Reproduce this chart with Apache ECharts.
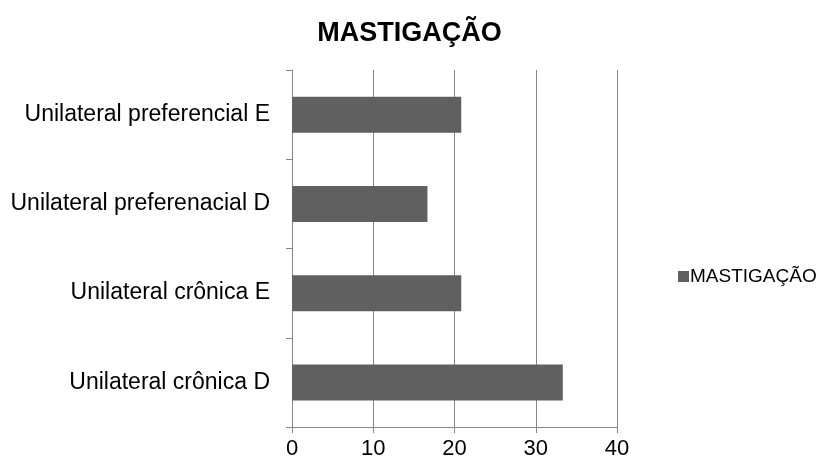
<!DOCTYPE html>
<html>
<head>
<meta charset="utf-8">
<script src="https://cdn.jsdelivr.net/npm/echarts@6/dist/echarts.min.js"></script>
<style>
  html, body { margin: 0; padding: 0; background: #fff; }
  #chart { width: 819px; height: 463px; }
</style>
</head>
<body>
<div id="chart"></div>
<script>
// Categories listed bottom to top (category axis is drawn from the bottom up)
const categories = [
  'Unilateral crônica D',
  'Unilateral crônica E',
  'Unilateral preferenacial D',
  'Unilateral preferencial E'
];
const seriesName = 'MASTIGAÇÃO';
const values = [33.33, 20.83, 16.67, 20.83];
const xTicks = [0, 10, 20, 30, 40];

const FONT = '"Liberation Sans", Arial, sans-serif';
const GRID_GRAY = '#868686';

const chart = echarts.init(document.getElementById('chart'), null, { renderer: 'canvas' });
chart.setOption({
  animation: false,
  backgroundColor: '#ffffff',
  title: {
    text: seriesName,
    left: 'center',
    top: 15,
    textStyle: { fontFamily: FONT, fontSize: 27, fontWeight: 'bold', color: '#000' }
  },
  legend: {
    data: [seriesName],
    left: 673,
    top: 262,
    icon: 'rect',
    itemWidth: 11,
    itemHeight: 11,
    textStyle: { fontFamily: FONT, fontSize: 19, color: '#000', padding: [0, 0, 0, -4] }
  },
  grid: { left: 292, right: 202, top: 70, bottom: 36, containLabel: false },
  xAxis: {
    type: 'value',
    min: xTicks[0],
    max: xTicks[xTicks.length - 1],
    interval: xTicks[1] - xTicks[0],
    axisLine: { show: true, lineStyle: { color: GRID_GRAY, width: 1 } },
    axisTick: { show: true, length: 6, lineStyle: { color: GRID_GRAY } },
    axisLabel: { fontFamily: FONT, fontSize: 22, color: '#000', margin: 11 },
    splitLine: { show: true, lineStyle: { color: GRID_GRAY, width: 1 } }
  },
  yAxis: {
    type: 'category',
    data: categories,
    boundaryGap: true,
    axisLine: { show: true, lineStyle: { color: GRID_GRAY, width: 1 } },
    axisTick: { show: true, length: 6, lineStyle: { color: GRID_GRAY } },
    axisLabel: { fontFamily: FONT, fontSize: 23, color: '#000', margin: 22 }
  },
  series: [{
    name: seriesName,
    type: 'bar',
    data: values,
    barWidth: 36,
    itemStyle: { color: '#606060' }
  }]
});
</script>
</body>
</html>
